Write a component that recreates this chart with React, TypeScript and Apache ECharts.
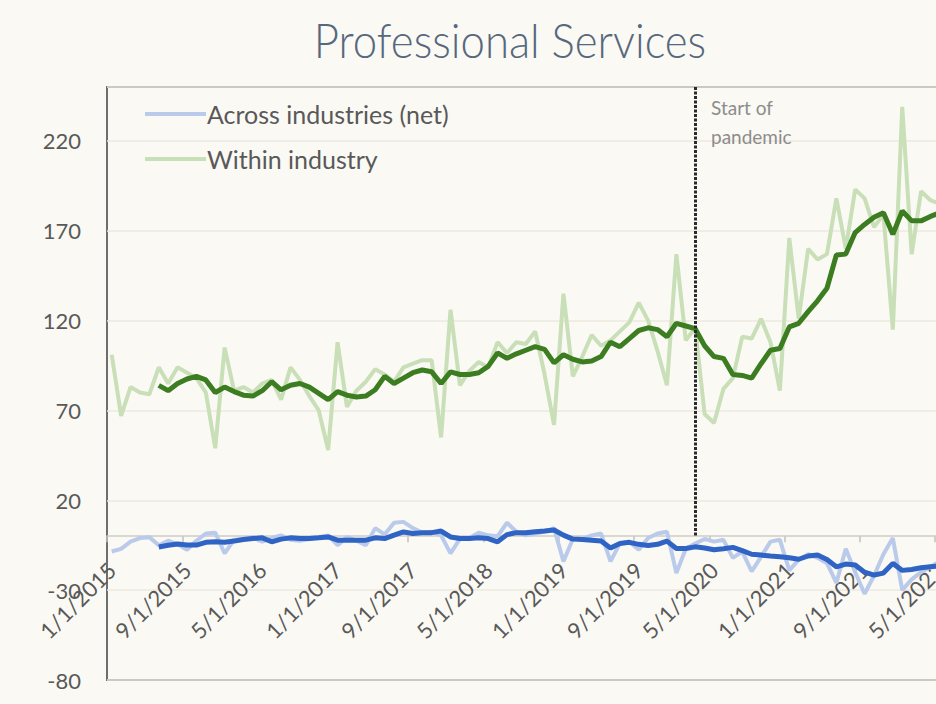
import React, { useEffect, useRef } from "react";
import * as echarts from "echarts";

const months: string[] = [
  "1/1/2015", "2/1/2015", "3/1/2015", "4/1/2015", "5/1/2015", "6/1/2015", "7/1/2015", "8/1/2015", "9/1/2015", "10/1/2015", "11/1/2015", "12/1/2015",
  "1/1/2016", "2/1/2016", "3/1/2016", "4/1/2016", "5/1/2016", "6/1/2016", "7/1/2016", "8/1/2016", "9/1/2016", "10/1/2016", "11/1/2016", "12/1/2016",
  "1/1/2017", "2/1/2017", "3/1/2017", "4/1/2017", "5/1/2017", "6/1/2017", "7/1/2017", "8/1/2017", "9/1/2017", "10/1/2017", "11/1/2017", "12/1/2017",
  "1/1/2018", "2/1/2018", "3/1/2018", "4/1/2018", "5/1/2018", "6/1/2018", "7/1/2018", "8/1/2018", "9/1/2018", "10/1/2018", "11/1/2018", "12/1/2018",
  "1/1/2019", "2/1/2019", "3/1/2019", "4/1/2019", "5/1/2019", "6/1/2019", "7/1/2019", "8/1/2019", "9/1/2019", "10/1/2019", "11/1/2019", "12/1/2019",
  "1/1/2020", "2/1/2020", "3/1/2020", "4/1/2020", "5/1/2020", "6/1/2020", "7/1/2020", "8/1/2020", "9/1/2020", "10/1/2020", "11/1/2020", "12/1/2020",
  "1/1/2021", "2/1/2021", "3/1/2021", "4/1/2021", "5/1/2021", "6/1/2021", "7/1/2021", "8/1/2021", "9/1/2021", "10/1/2021", "11/1/2021", "12/1/2021",
  "1/1/2022", "2/1/2022", "3/1/2022", "4/1/2022", "5/1/2022", "6/1/2022",
];

// Within industry (monthly, raw)
const withinRaw: (number | null)[] = [
  101, 67, 83, 80, 79, 94, 85, 94, 91, 88, 80, 49,
  105, 81, 83, 80, 85, 87, 76, 94, 87, 78, 70, 48,
  108, 72, 81, 86, 93, 90, 86, 94, 96, 98, 98, 55,
  126, 84, 92, 97, 94, 108, 102, 108, 107, 114, 90, 62,
  135, 89, 100, 112, 106, 109, 114, 119, 130, 120, 103, 84,
  157, 109, 116, 68, 63, 82, 88, 111, 110, 121, 108, 81,
  166, 121, 160, 154, 157, 188, 160, 193, 188, 172, 179, 115,
  239, 157, 192, 187, 185,
];

// Within industry (moving average)
const withinAvg: (number | null)[] = [
  null, null, null, null, null, 84, 81, 85, 87.5, 89, 87, 80,
  83, 80.5, 78.5, 78, 81, 86, 81.5, 84, 85, 83, 79.5, 76,
  80.5, 78.5, 77.5, 78, 81.5, 89, 85, 88, 91, 92.5, 91.5, 85,
  91.5, 90, 90, 91, 94.5, 102, 99, 101.5, 103.5, 105.5, 104, 96.5,
  101, 98.5, 97, 97.5, 100, 108, 105.5, 110, 114.5, 116, 115, 111,
  118.5, 117, 115.5, 106, 100, 99, 90, 89.5, 88, 96, 103.5, 104.5,
  116.5, 118.5, 125, 131, 138, 156.5, 157, 169, 173.5, 177.5, 180, 168,
  181, 175.5, 175.5, 178, 180,
];

// Across industries (net, monthly, raw)
const acrossRaw: (number | null)[] = [
  -8.5, -7, -3, -1, -0.5, -5, -2.5, -4.5, -7.5, -2.5, 1.5, 2,
  -9.5, -2, -1.5, -0.5, -3, -1, 0.5, -2, -2.5, -1.5, -0.5, 0.5,
  -5, -0.5, -2.5, -5, 4.5, 1, 7.5, 8, 4.5, 2, 2.5, 0.5,
  -9.5, -1.5, -1, 2, 0.5, 0, 7.5, 2.5, 0.5, 1.5, 2.5, 4.5,
  -14, -1.5, -1.5, 0.5, 1.5, -14, -4, -3, -7.5, -1, 1.5, 2.5,
  -20.5, -7, -4, -1.5, -3, -2, -12, -8.5, -19.5, -11.5, -3, -2,
  -19, -13, -10, -12, -15, -26, -7, -20, -32, -22, -10, -1,
  -30, -24, -20, -17, -14,
];

// Across industries (net, moving average)
const acrossAvg: (number | null)[] = [
  null, null, null, null, null, -6, -5, -4.3, -4.9, -4.9, -3.4, -3.1,
  -3.4, -2.7, -1.8, -1.3, -0.9, -3.1, -1.6, -0.9, -1.3, -1.3, -0.9, -0.4,
  -2.2, -2.2, -2.2, -2.2, -0.9, -1.3, 0.6, 2.4, 1.5, 1.9, 2, 2.9,
  -0.4, -1.3, -1.3, -0.9, -1.3, -3.1, 0.9, 2, 2, 2.5, 2.9, 3.5,
  0.6, -1.6, -1.8, -2.2, -2.7, -6.5, -4, -3.4, -4.5, -5.2, -4.5, -2.7,
  -6.8, -6.8, -5.9, -6.5, -7.5, -7, -6.2, -8, -10, -10.5, -11, -11.4,
  -12, -12.8, -11, -10.5, -13, -17, -15.5, -16, -20, -21.6, -20.5, -15.1,
  -19, -18.5, -17.5, -17, -16.5,
];

const pandemicMonth = "3/1/2020";
const yTicks = { min: -80, max: 250, interval: 50 };

const FONT = "Lato, 'Open Sans', sans-serif";
const BG = "#FBF9F4";

// grid geometry (pixels)
const GRID_TOP = 87;
const GRID_HEIGHT = 593;
// distance from grid bottom up to the zero line
const ZERO_OFFSET = (GRID_HEIGHT * (0 - yTicks.min)) / (yTicks.max - yTicks.min);

export default function App() {
  const ref = useRef<HTMLDivElement>(null);

  useEffect(() => {
    document.body.style.margin = "0";
    document.body.style.background = BG;
    if (!ref.current) return;
    const chart = echarts.init(ref.current, undefined, { renderer: "svg" });
    chart.setOption({
      animation: false,
      backgroundColor: BG,
      textStyle: { fontFamily: FONT },
      graphic: [
        {
          type: "text",
          x: 510,
          y: 40,
          scaleX: 0.93,
          z: 100,
          style: {
            text: "Professional Services",
            fontSize: 47,
            fontWeight: 300,
            fontFamily: FONT,
            fill: "#56687E",
            textAlign: "center",
            textVerticalAlign: "middle",
          },
        },
        {
          type: "text",
          left: 711,
          top: 93,
          z: 100,
          style: {
            text: "Start of\npandemic",
            fontSize: 19,
            lineHeight: 29,
            fontFamily: FONT,
            fill: "#8C8C8C",
          },
        },
      ],
      legend: {
        orient: "vertical",
        left: 140,
        top: 94,
        icon: "rect",
        itemWidth: 61,
        itemHeight: 4,
        itemGap: 15,
        data: ["Across industries (net)", "Within industry"],
        textStyle: { fontSize: 25, lineHeight: 30, color: "#595959", fontFamily: FONT, padding: [0, 0, 0, -4] },
      },
      grid: {
        left: 107,
        top: GRID_TOP,
        width: 847,
        height: GRID_HEIGHT,
        show: true,
        containLabel: false,
        outerBoundsMode: "none",
        borderColor: "#6E6E6E",
        borderWidth: 2,
        backgroundColor: "transparent",
      },
      xAxis: {
        type: "category",
        data: months,
        boundaryGap: true,
        position: "bottom",
        offset: -ZERO_OFFSET,
        axisLine: { onZero: false, lineStyle: { color: "#CFCCC6", width: 1.5 } },
        axisTick: { show: true, interval: 7, length: 6, lineStyle: { color: "#C4C1BB", width: 1.5 } },
        axisLabel: {
          interval: 7,
          rotate: 45,
          margin: 30,
          fontSize: 22,
          color: "#595959",
          fontFamily: FONT,
          hideOverlap: false,
        },
        splitLine: { show: false },
      },
      yAxis: {
        type: "value",
        min: yTicks.min,
        max: yTicks.max,
        interval: yTicks.interval,
        axisLine: { show: false },
        axisTick: { show: false },
        axisLabel: { fontSize: 22, color: "#595959", margin: 26, showMaxLabel: false, fontFamily: FONT },
        splitLine: { show: true, lineStyle: { color: "#ECE8E1", width: 1.5 } },
      },
      series: [
        {
          name: "Across industries (net)",
          type: "line",
          data: acrossRaw,
          symbol: "none",
          lineStyle: { color: "#B9CAEA", width: 4 },
          itemStyle: { color: "#B9CAEA" },
          z: 2,
        },
        {
          name: "Within industry",
          type: "line",
          data: withinRaw,
          symbol: "none",
          lineStyle: { color: "#C9DFB7", width: 4 },
          itemStyle: { color: "#C9DFB7" },
          z: 2,
        },
        {
          name: "Across industries (net) avg",
          type: "line",
          data: acrossAvg,
          symbol: "none",
          lineStyle: { color: "#2F63C4", width: 5 },
          itemStyle: { color: "#2F63C4" },
          z: 3,
        },
        {
          name: "Within industry avg",
          type: "line",
          data: withinAvg,
          symbol: "none",
          lineStyle: { color: "#3C7D22", width: 5 },
          itemStyle: { color: "#3C7D22" },
          z: 3,
          markLine: {
            silent: true,
            symbol: "none",
            label: { show: false },
            lineStyle: { color: "#2A2A2A", width: 3, type: [3, 1.5] },
            data: [[{ coord: [pandemicMonth, yTicks.max] }, { coord: [pandemicMonth, 0] }]],
          },
        },
      ],
    });
    return () => chart.dispose();
  }, []);

  return <div ref={ref} style={{ width: 936, height: 704 }} />;
}
